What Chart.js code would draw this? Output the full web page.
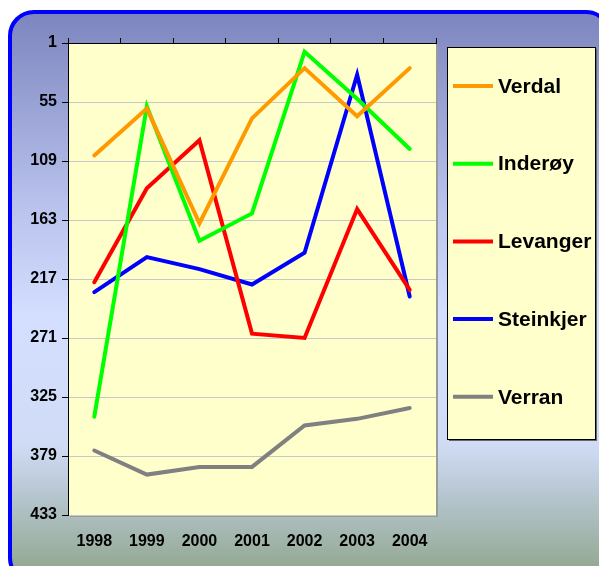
<!DOCTYPE html>
<html>
<head>
<meta charset="utf-8">
<script src="https://cdn.jsdelivr.net/npm/chart.js@4/dist/chart.umd.min.js"></script>
<style>
  html, body { margin: 0; padding: 0; background: #fff; }
  #wrap { width: 599px; height: 566px; }
</style>
</head>
<body>
<div id="wrap"><canvas id="chart" width="599" height="566"></canvas></div>
<script>
// years on the category axis
const years = ['1998', '1999', '2000', '2001', '2002', '2003', '2004'];
// rank values (lower = better, axis reversed)
const verdal = [104, 61, 166, 70, 24, 68, 24];
const inderoy = [343, 59, 182, 157, 9, 52, 98];
const levanger = [220, 134, 90, 267, 271, 153, 227];
const steinkjer = [229, 197, 208, 222, 193, 30, 233];
const verran = [374, 396, 389, 389, 351, 345, 335];
const rankTicks = [1, 55, 109, 163, 217, 271, 325, 379, 433];

const seriesNames = ['Verdal', 'Inderøy', 'Levanger', 'Steinkjer', 'Verran'];
const seriesColors = ['#FF9900', '#00FF00', '#FF0000', '#0000FF', '#808080'];
const seriesData = [verdal, inderoy, levanger, steinkjer, verran];

const FONT = 'Liberation Sans, Arial, sans-serif';

// frame, plot fill and legend box
const backdrop = {
  id: 'backdrop',
  beforeDraw(chart) {
    const ctx = chart.ctx;
    const a = chart.chartArea;
    ctx.save();
    // rounded frame with gradient
    const g = ctx.createLinearGradient(0, 10, 0, 566);
    g.addColorStop(0, '#7C84BE');
    g.addColorStop(0.35, '#B8C2EC');
    g.addColorStop(0.55, '#D4DEFF');
    g.addColorStop(0.78, '#D0DCF6');
    g.addColorStop(0.88, '#B4C4CC');
    g.addColorStop(1, '#94AA94');
    ctx.beginPath();
    ctx.roundRect(10, 12, 600, 570, 24);
    ctx.fillStyle = g;
    ctx.fill();
    ctx.lineWidth = 4;
    ctx.strokeStyle = '#0000FF';
    ctx.stroke();
    // plot area shadow + fill
    ctx.fillStyle = '#9A9A9A';
    ctx.fillRect(a.left + 2, a.top + 2, a.right - a.left, a.bottom - a.top);
    ctx.fillStyle = '#FFFFCC';
    ctx.fillRect(a.left, a.top, a.right - a.left, a.bottom - a.top);
    // legend box
    const lx = 447, ly = 47, lw = 148, lh = 392;
    ctx.fillStyle = '#666';
    ctx.fillRect(lx + 2, ly + 2, lw, lh);
    ctx.fillStyle = '#FFFFCC';
    ctx.fillRect(lx, ly, lw, lh);
    ctx.lineWidth = 1;
    ctx.strokeStyle = '#000';
    ctx.strokeRect(lx + 0.5, ly + 0.5, lw, lh);
    ctx.restore();
  },
  afterDraw(chart) {
    const ctx = chart.ctx;
    ctx.save();
    ctx.font = 'bold 21px ' + FONT;
    ctx.textBaseline = 'middle';
    ctx.fillStyle = '#000';
    ctx.lineWidth = 4;
    chart.data.datasets.forEach((ds, i) => {
      const y = 86 + i * 77.7;
      ctx.strokeStyle = ds.borderColor;
      ctx.beginPath();
      ctx.moveTo(453, y);
      ctx.lineTo(493, y);
      ctx.stroke();
      ctx.fillText(ds.label, 498, y + 1);
    });
    ctx.restore();
  }
};

new Chart(document.getElementById('chart'), {
  type: 'line',
  data: {
    labels: years,
    datasets: seriesNames.map((name, i) => ({
      label: name,
      data: seriesData[i],
      borderColor: seriesColors[i],
      backgroundColor: seriesColors[i],
      borderWidth: 4,
      pointRadius: 0,
      tension: 0,
      borderCapStyle: 'round'
    }))
  },
  options: {
    responsive: false,
    animation: false,
    layout: { padding: { left: 0, right: 163, top: 0, bottom: 0 } },
    plugins: { legend: { display: false }, tooltip: { enabled: false } },
    scales: {
      x: {
        position: 'bottom',
        offset: true,
        grid: { display: false },
        border: { display: false },
        ticks: { color: '#000', font: { family: FONT, size: 16, weight: 'bold' }, padding: 9 },
        afterFit(s) { s.height = 51; }
      },
      xTop: {
        position: 'top',
        offset: true,
        labels: years,
        grid: { drawOnChartArea: false, offset: true, tickLength: 5, color: '#000' },
        border: { display: true, color: '#000', width: 1 },
        ticks: { display: false },
        afterFit(s) { s.height = 43; }
      },
      y: {
        reverse: true,
        min: 1,
        max: 433,
        afterBuildTicks(s) { s.ticks = rankTicks.map(v => ({ value: v })); },
        grid: { color: '#C8C8C8', tickLength: 6, tickColor: '#000' },
        border: { display: true, color: '#000', width: 1 },
        ticks: { color: '#000', font: { family: FONT, size: 16, weight: 'bold' }, padding: 5 },
        afterFit(s) { s.width = 68; }
      }
    }
  },
  plugins: [backdrop]
});
</script>
</body>
</html>
